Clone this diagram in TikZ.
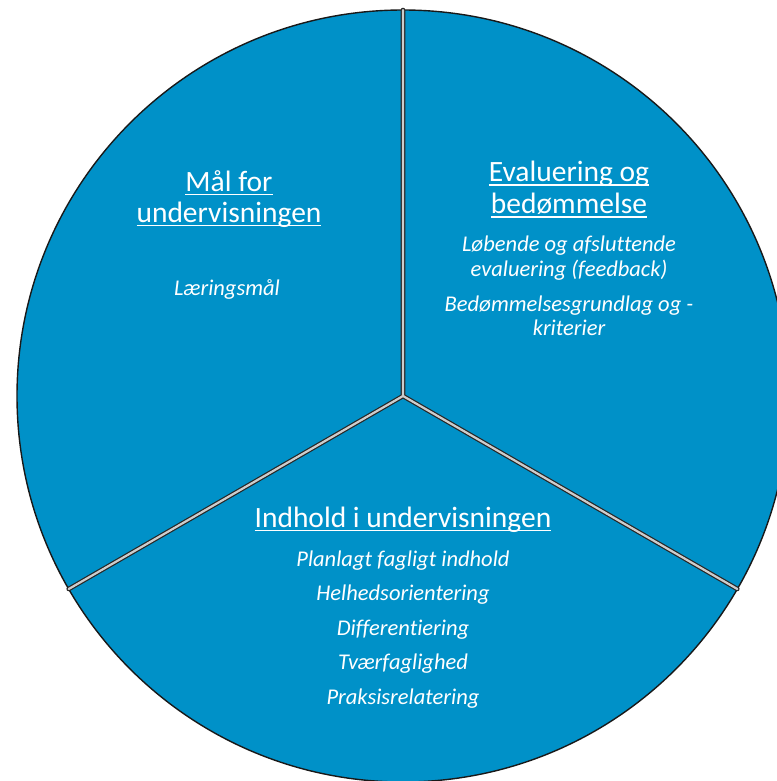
\documentclass[tikz,border=0pt]{standalone}
\usepackage{fontspec}
\setmainfont{Carlito}[Ligatures=NoCommon]
\newcommand\ulx[1]{\setbox0\hbox{#1}\rlap{\rule[-4pt]{\wd0}{1.3pt}}\box0}
\definecolor{pieblue}{RGB}{0,145,200}
\definecolor{gapgray}{RGB}{205,205,205}
\begin{document}
\begin{tikzpicture}[x=1pt,y=-1pt,
  ttl/.style={text=white,anchor=base,inner sep=0pt,font=\fontsize{29.5}{32}\selectfont},
  itl/.style={text=white,anchor=base,inner sep=0pt,font=\fontsize{22.5}{25}\selectfont\itshape},
  divout/.style={draw=black!85,line width=4.6pt,line cap=round},
  divin/.style={draw=gapgray,line width=2.2pt,line cap=round}]
\useasboundingbox (0,0) rectangle (776,781);
\coordinate (c) at (403,396);
\coordinate (top) at (403,10);
\coordinate (left) at (68.7,589);
\coordinate (right) at (737.3,589);
\fill[pieblue] (c) circle[radius=386];
\draw[black!90,line width=1.4pt] (c) circle[radius=386];
\draw[divout] (c) -- (top) (c) -- (left) (c) -- (right);
\draw[divin] (c) -- (top) (c) -- (left) (c) -- (right);
% left sector
\node[ttl] (m1) at (229,191) {\ulx{Mål for}};
\node[ttl] (m2) at (229,222) {\ulx{undervisningen}};
\node[itl] (m3) at (227,295) {Læringsmål};
% right sector
\node[ttl] (e1) at (569,181.5) {\ulx{Evaluering og}};
\node[ttl] (e2) at (569,213.5) {\ulx{bedømmelse}};
\node[itl] (e3) at (569,251.7) {Løbende og afsluttende};
\node[itl] (e4) at (569,276.7) {evaluering (feedback)};
\node[itl] (e5) at (569,311.7) {Bedømmelsesgrundlag og -};
\node[itl] (e6) at (569,335) {kriterier};
% bottom sector
\node[ttl] (i1) at (403,527) {\ulx{Indhold i undervisningen}};
\node[itl] (i2) at (403,566.7) {Planlagt fagligt indhold};
\node[itl] (i3) at (403,600.5) {Helhedsorientering};
\node[itl] (i4) at (403,635) {Differentiering};
\node[itl] (i5) at (403,669.5) {Tværfaglighed};
\node[itl] (i6) at (403,704) {Praksisrelatering};
\end{tikzpicture}
\end{document}
